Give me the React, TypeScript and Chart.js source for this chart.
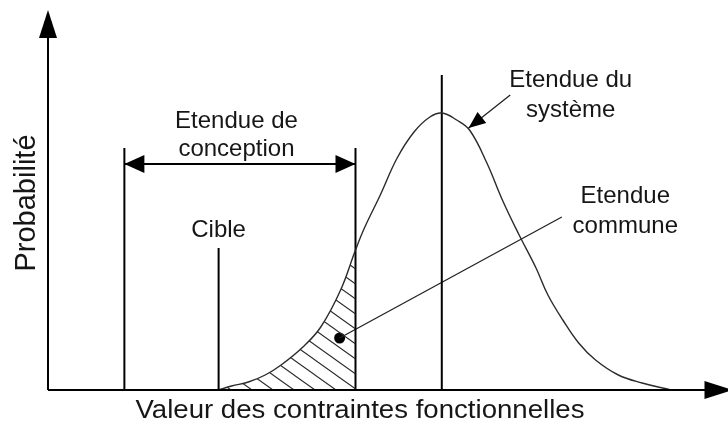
import React, { useEffect, useRef } from "react";
import { Chart, registerables } from "chart.js";

Chart.register(...registerables);

// Horizontal value (distance from the vertical axis) and probability height of the system curve
const curveX = [172, 185, 202, 219, 235, 257, 275, 295, 310, 319, 335, 352, 369, 385, 397, 412, 425, 442, 459, 475, 492, 504, 519, 535, 552, 575, 599, 628];
const curveY = [0, 4, 8, 15, 25, 43, 63, 100, 140, 162, 195, 232, 258, 273, 277, 270, 260, 228, 188, 155, 122, 95, 70, 47, 30, 15, 7, 0];

// Design range, target and system mean
const designMin = 77;
const designMax = 310;
const designTop = 242;
const designArrowY = 226;
const targetX = 172;
const targetTop = 142;
const meanX = 397;
const meanTop = 315;

// Pointer lines
const systemArrowFrom = [466, 295];
const systemArrowTo = [424, 262];
const commonLineFrom = [518, 173];
const commonDot = [294, 52];

// Text labels
const labelTexts = ["Etendue de", "conception", "Cible", "Etendue du", "système", "Etendue", "commune"];
const labelX = [190, 190, 172, 527, 527, 582, 582];
const labelY = [262, 234, 153, 303, 273, 187, 157];

const xTitle = "Valeur des contraintes fonctionnelles";
const yTitle = "Probabilité";

const X_MAX = 680;
const Y_MAX = 380;
const FONT = '"Liberation Sans", Arial, Helvetica, sans-serif';
const INK = "#161616";

function makeHatch(): CanvasPattern | string {
  const w = 21;
  const h = 15;
  const c = document.createElement("canvas");
  c.width = w;
  c.height = h;
  const g = c.getContext("2d");
  if (!g) return "rgba(0,0,0,0)";
  g.strokeStyle = "#2a2a2a";
  g.lineWidth = 1.1;
  g.beginPath();
  g.moveTo(0, 0);
  g.lineTo(w, h);
  g.moveTo(-w / 2, h / 2);
  g.lineTo(w / 2, h * 1.5);
  g.moveTo(w / 2, -h / 2);
  g.lineTo(w * 1.5, h / 2);
  g.stroke();
  const p = g.createPattern(c, "repeat");
  return p || "rgba(0,0,0,0)";
}

function arrowHead(ctx: CanvasRenderingContext2D, fx: number, fy: number, tx: number, ty: number, len: number, half: number) {
  const dx = tx - fx;
  const dy = ty - fy;
  const d = Math.hypot(dx, dy) || 1;
  const ux = dx / d;
  const uy = dy / d;
  const bx = tx - ux * len;
  const by = ty - uy * len;
  ctx.beginPath();
  ctx.moveTo(tx, ty);
  ctx.lineTo(bx - uy * half, by + ux * half);
  ctx.lineTo(bx + uy * half, by - ux * half);
  ctx.closePath();
  ctx.fill();
}

const overlayPlugin = {
  id: "overlay",
  afterDatasetsDraw(chart: any) {
    const { ctx } = chart;
    const xs = chart.scales.x;
    const ys = chart.scales.y;
    const px = (v: number) => xs.getPixelForValue(v);
    const py = (v: number) => ys.getPixelForValue(v);
    ctx.save();
    ctx.fillStyle = "#000";
    ctx.strokeStyle = "#000";

    // Axes with arrows
    ctx.lineWidth = 2;
    ctx.beginPath();
    ctx.moveTo(px(0), py(0));
    ctx.lineTo(px(0), py(Y_MAX) + 20);
    ctx.moveTo(px(0), py(0));
    ctx.lineTo(px(X_MAX) - 10, py(0));
    ctx.stroke();
    arrowHead(ctx, px(0), py(0), px(0), py(Y_MAX), 28, 9);
    arrowHead(ctx, px(0), py(0), px(X_MAX) + 10, py(0), 28, 9);

    // Design range double arrow heads
    arrowHead(ctx, px(designMax), py(designArrowY), px(designMin), py(designArrowY), 20, 9);
    arrowHead(ctx, px(designMin), py(designArrowY), px(designMax), py(designArrowY), 20, 9);

    // System range arrow head
    arrowHead(ctx, px(systemArrowFrom[0]), py(systemArrowFrom[1]), px(systemArrowTo[0]), py(systemArrowTo[1]), 17, 7);

    // Labels
    ctx.fillStyle = INK;
    ctx.textAlign = "center";
    ctx.textBaseline = "alphabetic";
    ctx.font = `24px ${FONT}`;
    labelTexts.forEach((t, i) => {
      ctx.fillText(t, px(labelX[i]), py(labelY[i]));
    });

    // X title
    ctx.font = `26px ${FONT}`;
    const w = ctx.measureText(xTitle).width;
    ctx.save();
    ctx.translate(px(314.5), py(-28));
    ctx.scale(449 / w, 1);
    ctx.fillText(xTitle, 0, 0);
    ctx.restore();

    // Y title
    ctx.save();
    ctx.translate(px(-13), py(187));
    ctx.rotate(-Math.PI / 2);
    ctx.font = `29px ${FONT}`;
    ctx.fillText(yTitle, 0, 0);
    ctx.restore();

    ctx.restore();
  },
};

export default function App() {
  const ref = useRef<HTMLCanvasElement | null>(null);

  useEffect(() => {
    if (!ref.current) return;
    const curve = curveX.map((x, i) => ({ x, y: curveY[i] }));
    const hatchFill = makeHatch();
    const seg = (a: number[], b: number[]) => [
      { x: a[0], y: a[1] },
      { x: b[0], y: b[1] },
    ];
    const straight = { pointRadius: 0, borderColor: "#000", borderWidth: 2, tension: 0, fill: false, clip: false as const };

    const chart = new Chart(ref.current, {
      type: "line",
      data: {
        datasets: [
          {
            data: curve,
            borderColor: "#2b2b2b",
            borderWidth: 1.4,
            pointRadius: 0,
            tension: 0.4,
            fill: "origin",
            backgroundColor: "rgba(0,0,0,0)",
            segment: {
              backgroundColor: (c: any) =>
                c.p0.parsed.x >= targetX && c.p1.parsed.x <= designMax ? hatchFill : "rgba(0,0,0,0)",
            },
            clip: false as const,
          },
          { ...straight, data: seg([designMin, 0], [designMin, designTop]) },
          { ...straight, data: seg([designMax, 0], [designMax, designTop]) },
          { ...straight, data: seg([targetX, 0], [targetX, targetTop]) },
          { ...straight, data: seg([meanX, 0], [meanX, meanTop]) },
          { ...straight, borderWidth: 1.8, data: seg([designMin, designArrowY], [designMax, designArrowY]) },
          { ...straight, borderWidth: 1.3, borderColor: "#222", data: seg(systemArrowFrom, systemArrowTo) },
          { ...straight, borderWidth: 1.3, borderColor: "#222", data: seg(commonLineFrom, commonDot) },
          {
            data: [{ x: commonDot[0], y: commonDot[1] }],
            showLine: false,
            pointRadius: 5.5,
            pointBackgroundColor: "#000",
            pointBorderWidth: 0,
            clip: false as const,
          },
        ] as any,
      },
      options: {
        animation: false,
        responsive: false,
        events: [],
        layout: { padding: { left: 48, top: 10, right: 0, bottom: 33 } },
        plugins: {
          legend: { display: false },
          tooltip: { enabled: false },
          title: { display: false },
        },
        scales: {
          x: { type: "linear", min: 0, max: X_MAX, display: false },
          y: { type: "linear", min: 0, max: Y_MAX, display: false },
        },
      },
      plugins: [overlayPlugin],
    });
    return () => chart.destroy();
  }, []);

  return (
    <div style={{ position: "fixed", left: 0, top: 0, width: 728, height: 423, background: "#fff" }}>
      <canvas ref={ref} width={728} height={423} style={{ width: 728, height: 423, display: "block" }} />
    </div>
  );
}
